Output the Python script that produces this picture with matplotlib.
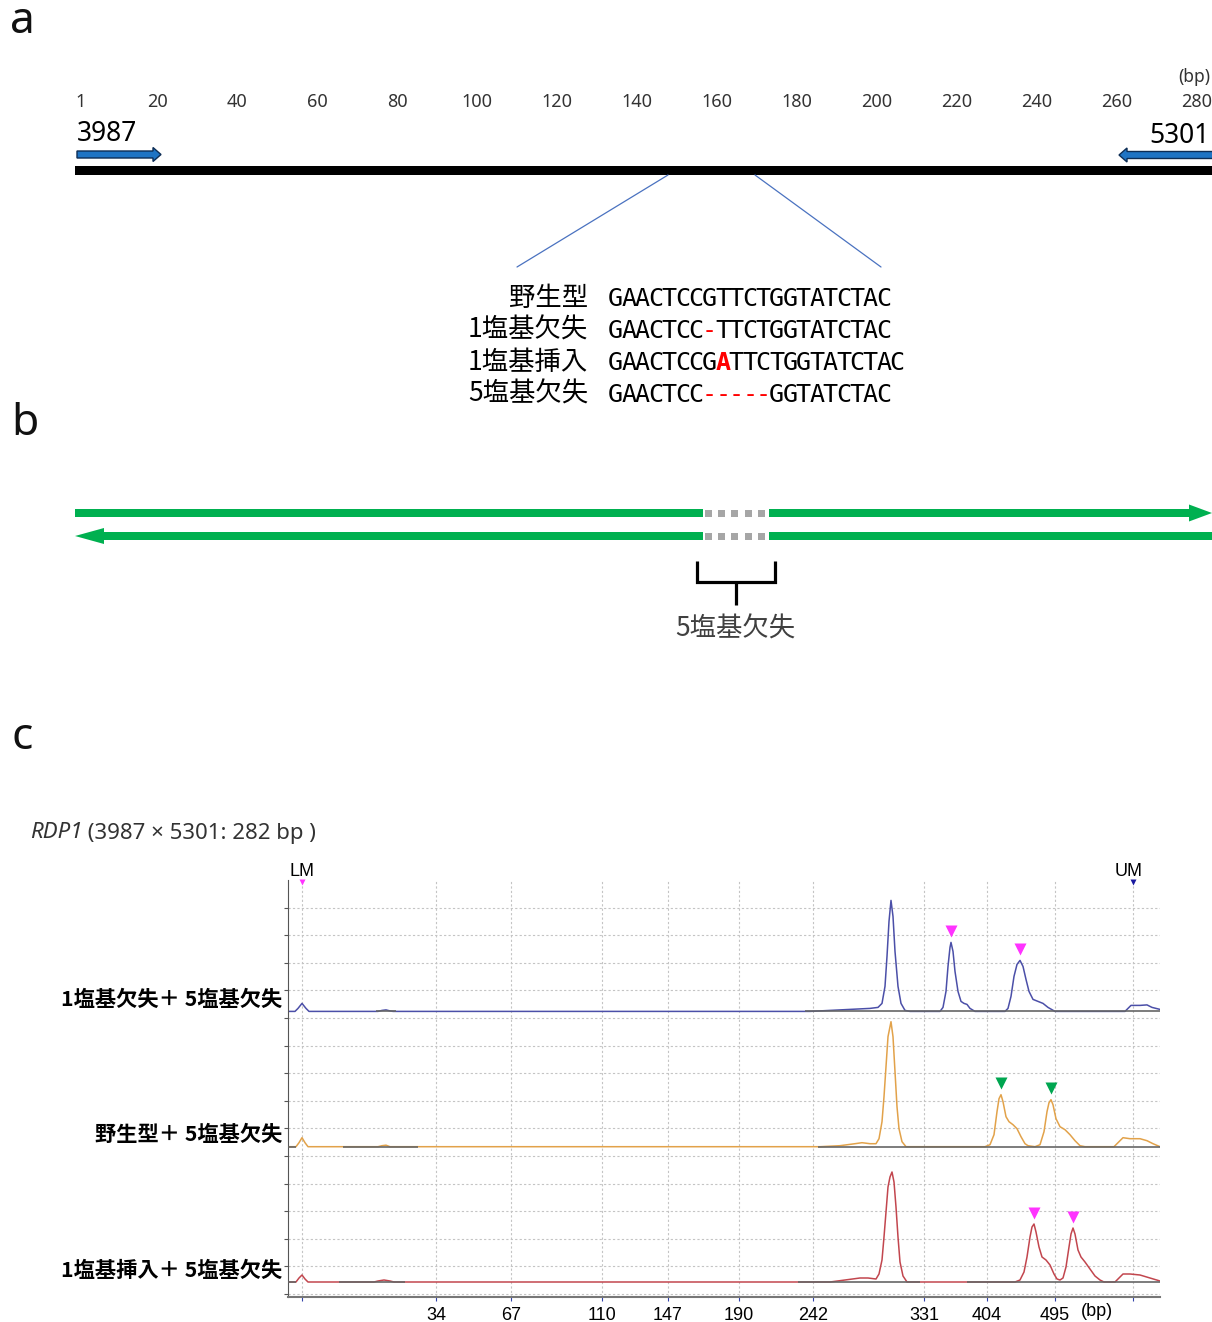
import matplotlib
matplotlib.use('Agg')
import matplotlib.pyplot as plt
from matplotlib.patches import Rectangle, FancyArrow, ConnectionPatch
import matplotlib.transforms as mtransforms
import numpy as np

plt.rcParams['font.family'] = ['Noto Sans CJK JP', 'DejaVu Sans']

# ---------------- data ----------------
# panel a: amplicon ruler, primers, alignment
ruler_bp = [1, 20, 40, 60, 80, 100, 120, 140, 160, 180, 200, 220, 240, 260, 280]
amplicon_bp = 282
primer_len = 21
fwd_primer = '3987'
rev_primer = '5301'
zoom_bp = (147.75, 169.5)

seq_names = ['野生型', '1塩基欠失', '1塩基挿入', '5塩基欠失']
seqs = ['GAACTCCGTTCTGGTATCTAC',
        'GAACTCC-TTCTGGTATCTAC',
        'GAACTCCGATTCTGGTATCTAC',
        'GAACTCC-----GGTATCTAC']
seq_red = [[], [7], [8], [7, 8, 9, 10, 11]]

# panel b
deletion_len = 5
deletion_label = '5塩基欠失'

# panel c: electropherogram (migration position, signal height)
title_gene = 'RDP1'
title_rest = ' (3987 × 5301: 282 bp )'
lane_names = ['1塩基欠失＋ 5塩基欠失', '野生型＋ 5塩基欠失', '1塩基挿入＋ 5塩基欠失']
lane_colors = ['#4b4fa8', '#e2a24a', '#c2464e']
marker_colors = ['#ff33ff', '#00a650', '#ff33ff']

ladder_labels = ['34', '67', '110', '147', '190', '242', '331', '404', '495']
ladder_pos = [436, 511, 602, 668, 739, 813, 924, 987, 1055]
lm_pos, um_pos = 302, 1133

blue_x = [288, 295, 298, 302, 306, 309, 378, 382, 386, 390, 393, 810, 830, 850, 870, 878,
          882, 885, 887, 889, 891, 893, 895, 898, 901, 905, 910, 940, 943, 946, 948, 950,
          951, 953, 955, 958, 961, 964, 967, 970, 975, 1005, 1008, 1011, 1014, 1017, 1020,
          1023, 1026, 1029, 1033, 1038, 1043, 1048, 1055, 1125, 1128, 1131, 1140, 1147,
          1152, 1160]
blue_h = [0, 0, 3, 8, 3, 0, 0, 1, 1.5, 0.5, 0, 0, 1, 2, 3, 4,
          8, 25, 55, 90, 111, 95, 60, 25, 8, 1, 0, 0, 4, 20, 45, 64,
          69, 60, 40, 20, 10, 8, 7, 3, 0, 0, 3, 15, 35, 47, 51,
          45, 32, 20, 12, 10, 8, 4, 0, 0, 3, 6, 6, 6.5,
          4, 2]

yellow_x = [288, 296, 299, 302, 305, 308, 378, 382, 386, 390, 820, 840, 855, 862, 870, 876,
            879, 882, 884, 886, 888, 890, 891, 893, 895, 897, 899, 902, 906, 985, 990, 994,
            997, 999, 1001, 1003, 1006, 1009, 1013, 1017, 1021, 1025, 1028, 1035, 1040, 1044,
            1047, 1049, 1051, 1053, 1056, 1060, 1065, 1070, 1075, 1080, 1085, 1114, 1118,
            1123, 1130, 1140, 1147, 1153, 1160]
yellow_h = [0, 0, 4, 9, 4, 0, 0, 1, 1.5, 0, 0, 1, 3, 4, 3, 3,
            8, 25, 50, 80, 110, 120, 125, 110, 75, 40, 18, 5, 0, 0, 2, 12,
            35, 48, 52, 45, 30, 25, 22, 18, 10, 3, 1, 0, 2, 15,
            35, 44, 47, 42, 28, 20, 17, 12, 6, 1, 0, 0, 4,
            9, 8, 8, 6, 3, 0]

red_x = [288, 296, 299, 302, 305, 308, 374, 378, 384, 390, 394, 830, 845, 860, 868, 876,
         879, 882, 884, 886, 888, 890, 892, 894, 896, 898, 900, 903, 907, 1015, 1020, 1024,
         1027, 1030, 1032, 1034, 1036, 1039, 1042, 1046, 1050, 1054, 1057, 1060, 1063, 1066,
         1069, 1071, 1073, 1075, 1078, 1081, 1085, 1090, 1095, 1100, 1104, 1115, 1119, 1123,
         1130, 1140, 1150, 1160]
red_h = [0, 0, 4, 7, 3, 0, 0, 1, 2, 1, 0, 0, 2, 4, 4, 3,
         8, 22, 45, 70, 95, 105, 110, 100, 75, 45, 20, 6, 0, 0, 2, 10,
         25, 45, 55, 58, 50, 35, 25, 22, 17, 8, 3, 2, 4, 15,
         35, 48, 54, 48, 32, 25, 20, 13, 6, 2, 0, 0, 4, 8,
         8, 7, 4, 1]

traces_x = [blue_x, yellow_x, red_x]
traces_h = [blue_h, yellow_h, red_h]
peak_marks = [[951, 1020], [1001, 1051], [1034, 1073]]
baseline_segments = [[(376, 396), (805, 1160)],
                     [(288, 296), (343, 418), (818, 1160)],
                     [(288, 296), (339, 405), (798, 920), (967, 1160)]]

# ---------------- figure ----------------
W, H = 1212, 1322
fig = plt.figure(figsize=(W / 100, H / 100), dpi=100)

# pixel overlay for free layout
ax0 = fig.add_axes([0, 0, 1, 1])
ax0.set_xlim(0, W)
ax0.set_ylim(H, 0)
ax0.axis('off')

# panel a: x in bp
px0, px_per_bp = 77, 4.0
ax_a = fig.add_axes([0, 0, 1, 1])
ax_a.set_xlim(-px0 / px_per_bp, (W - px0) / px_per_bp)
ax_a.set_ylim(H, 0)
ax_a.axis('off')

sans = ['Noto Sans', 'DejaVu Sans']
letter_kw = dict(fontsize=32, ha='center', va='center', family=sans, color='#111111')
ax0.text(22, 22, 'a', **letter_kw)
ax0.text(25, 424, 'b', **letter_kw)
ax0.text(22, 738, 'c', **letter_kw)

# --- a: ruler ---
for bp in ruler_bp:
    ax_a.text(bp, 102, str(bp), ha='center', va='center', fontsize=13,
              color='#333333', family=sans)
ax0.text(1210, 77, '(bp)', ha='right', va='center', fontsize=12.5,
         color='#333333', family=sans)

ax_a.add_patch(Rectangle((-0.5, 166), amplicon_bp + 4, 9, color='black', lw=0))

arrow_kw = dict(width=7, head_width=14, head_length=2.0, length_includes_head=True,
                fc='#1f74c4', ec='#0d2d55', lw=1)
ax_a.add_patch(FancyArrow(0, 154.5, primer_len, 0, **arrow_kw))
rev_tail = amplicon_bp + 3
ax_a.add_patch(FancyArrow(rev_tail, 155, -(rev_tail - (amplicon_bp - primer_len - 0.5)), 0,
                          **arrow_kw))
ax_a.text(0, 134, fwd_primer, ha='left', va='center', fontsize=19, family=sans)
ax0.text(1210, 136, rev_primer, ha='right', va='center', fontsize=19, family=sans)

# zoom lines from bar to alignment
for bp, xb in zip(zoom_bp, (517, 881)):
    con = ConnectionPatch(xyA=(bp, 175), coordsA=ax_a.transData,
                          xyB=(xb, 267), coordsB=ax0.transData,
                          color='#4a72c0', lw=0.9)
    fig.add_artist(con)

# --- a: alignment ---
row_y = [298, 330, 362, 394]
seq_x0, pitch = 609, 13.4
for name, seq, reds, y in zip(seq_names, seqs, seq_red, row_y):
    ax0.text(588, y, name, ha='right', va='center', fontsize=19)
    for j, ch in enumerate(seq):
        red = j in reds
        ax0.text(seq_x0 + pitch * (j + 0.5), y + 1, ch, ha='center', va='center',
                 family='DejaVu Sans Mono', fontsize=18,
                 color='#ff0000' if red else 'black',
                 weight='bold' if (red and ch != '-') else 'normal')

# --- b: double strand with deletion ---
green = '#00b050'
gap_l, gap_r = 703, 769
ax0.add_patch(Rectangle((75, 509), gap_l - 75, 8, color=green, lw=0))
ax0.add_patch(FancyArrow(gap_r, 513, W - gap_r, 0, width=8, head_width=17, head_length=23,
                         length_includes_head=True, color=green, lw=0))
ax0.add_patch(FancyArrow(gap_l, 536, 75 - gap_l, 0, width=8, head_width=16, head_length=29,
                         length_includes_head=True, color=green, lw=0))
ax0.add_patch(Rectangle((gap_r, 532), W - gap_r + 5, 8, color=green, lw=0))
step = (gap_r - gap_l) / deletion_len
for k in range(deletion_len):
    for yy in (509.5, 532.5):
        ax0.add_patch(Rectangle((gap_l + 2 + k * step, yy), 7, 7, color='#a6a6a6', lw=0))

ax0.plot([697, 697, 775, 775], [561, 582, 582, 561], color='black', lw=2.3,
         solid_joinstyle='miter', solid_capstyle='butt')
ax0.plot([736, 736], [582, 605], color='black', lw=2.3, solid_capstyle='butt')
ax0.text(735, 629, deletion_label, ha='center', va='center', fontsize=19, color='#404040')

# --- c: title and lane names ---
t1 = ax0.text(30, 833, title_gene, style='italic', fontsize=16, va='center', ha='left',
              color='#333333', family=sans)
ax0.annotate(title_rest, xy=(1, 0), xycoords=t1, va='bottom', ha='left', fontsize=16,
             color='#333333', family=sans)

# electropherogram axes
ax_left, ax_right, ax_top, ax_bot = 288, 1160, 880, 1297
axc = fig.add_axes([ax_left / W, (H - ax_bot) / H, (ax_right - ax_left) / W,
                    (ax_bot - ax_top) / H])
axc.set_xlim(ax_left, ax_right)
axc.set_ylim(0, ax_bot - ax_top)
axc.patch.set_alpha(0)
lane_gap = 135.3
lane_base = [15 + (2 - i) * lane_gap for i in range(3)]

grid_y = np.arange(3, 400, 27.6)
for gy in grid_y:
    axc.axhline(gy, color='#c4c4c4', lw=0.8, ls=(0, (2, 2)), zorder=0)
for gx in [lm_pos] + ladder_pos + [um_pos]:
    axc.axvline(gx, color='#c4c4c4', lw=0.8, ls=(0, (2, 2)), zorder=0)

for i in range(3):
    xs = traces_x[i]
    hs = np.array(traces_h[i])
    axc.plot(xs, lane_base[i] + hs, color=lane_colors[i], lw=1.1, zorder=2)
    for (s0, s1) in baseline_segments[i]:
        axc.hlines(lane_base[i], s0, s1, color='#666666', lw=1.2, zorder=3)
    for px in peak_marks[i]:
        h = traces_h[i][xs.index(px)]
        axc.plot(px, lane_base[i] + h + 11.5, marker='v', ms=9, color=marker_colors[i],
                 mec='none', zorder=4)
    ax0.text(282, ax_bot - lane_base[i] - 12, lane_names[i], ha='right',
             va='center', fontsize=15.3, weight='bold')

# LM / UM markers
top = ax_bot - ax_top
axc.plot(lm_pos, top - 2, marker='v', ms=4.5, color='#ff33ff', mec='none', clip_on=False)
axc.plot(um_pos, top - 2, marker='v', ms=4.5, color='#1a1aa0', mec='none', clip_on=False)
trans = mtransforms.blended_transform_factory(axc.transData, axc.transAxes)
lab_frac = (ax_bot - 872) / (ax_bot - ax_top)
axc.text(lm_pos, lab_frac, 'LM', transform=trans, ha='center', va='center', fontsize=13,
         family=['Liberation Sans', 'DejaVu Sans'])
axc.text(um_pos - 4, lab_frac, 'UM', transform=trans, ha='center', va='center', fontsize=13,
         family=['Liberation Sans', 'DejaVu Sans'])

for side in ('top', 'right'):
    axc.spines[side].set_visible(False)
axc.spines['left'].set_color('#555555')
axc.spines['bottom'].set_color('#777777')
axc.spines['bottom'].set_linewidth(1.5)
axc.set_yticks(grid_y)
axc.set_yticklabels([])
axc.tick_params(axis='y', length=3, color='#555555')
axc.set_xticks([lm_pos] + ladder_pos + [um_pos])
axc.set_xticklabels([''] + ladder_labels + [''], family=['Liberation Sans', 'DejaVu Sans'])
axc.tick_params(axis='x', length=3, color='#3344aa', labelsize=13, pad=4)
axc.text(1097, -15, '(bp)', ha='center', va='center', fontsize=13,
         family=['Liberation Sans', 'DejaVu Sans'], clip_on=False)

fig.savefig('out.png', dpi=100)
